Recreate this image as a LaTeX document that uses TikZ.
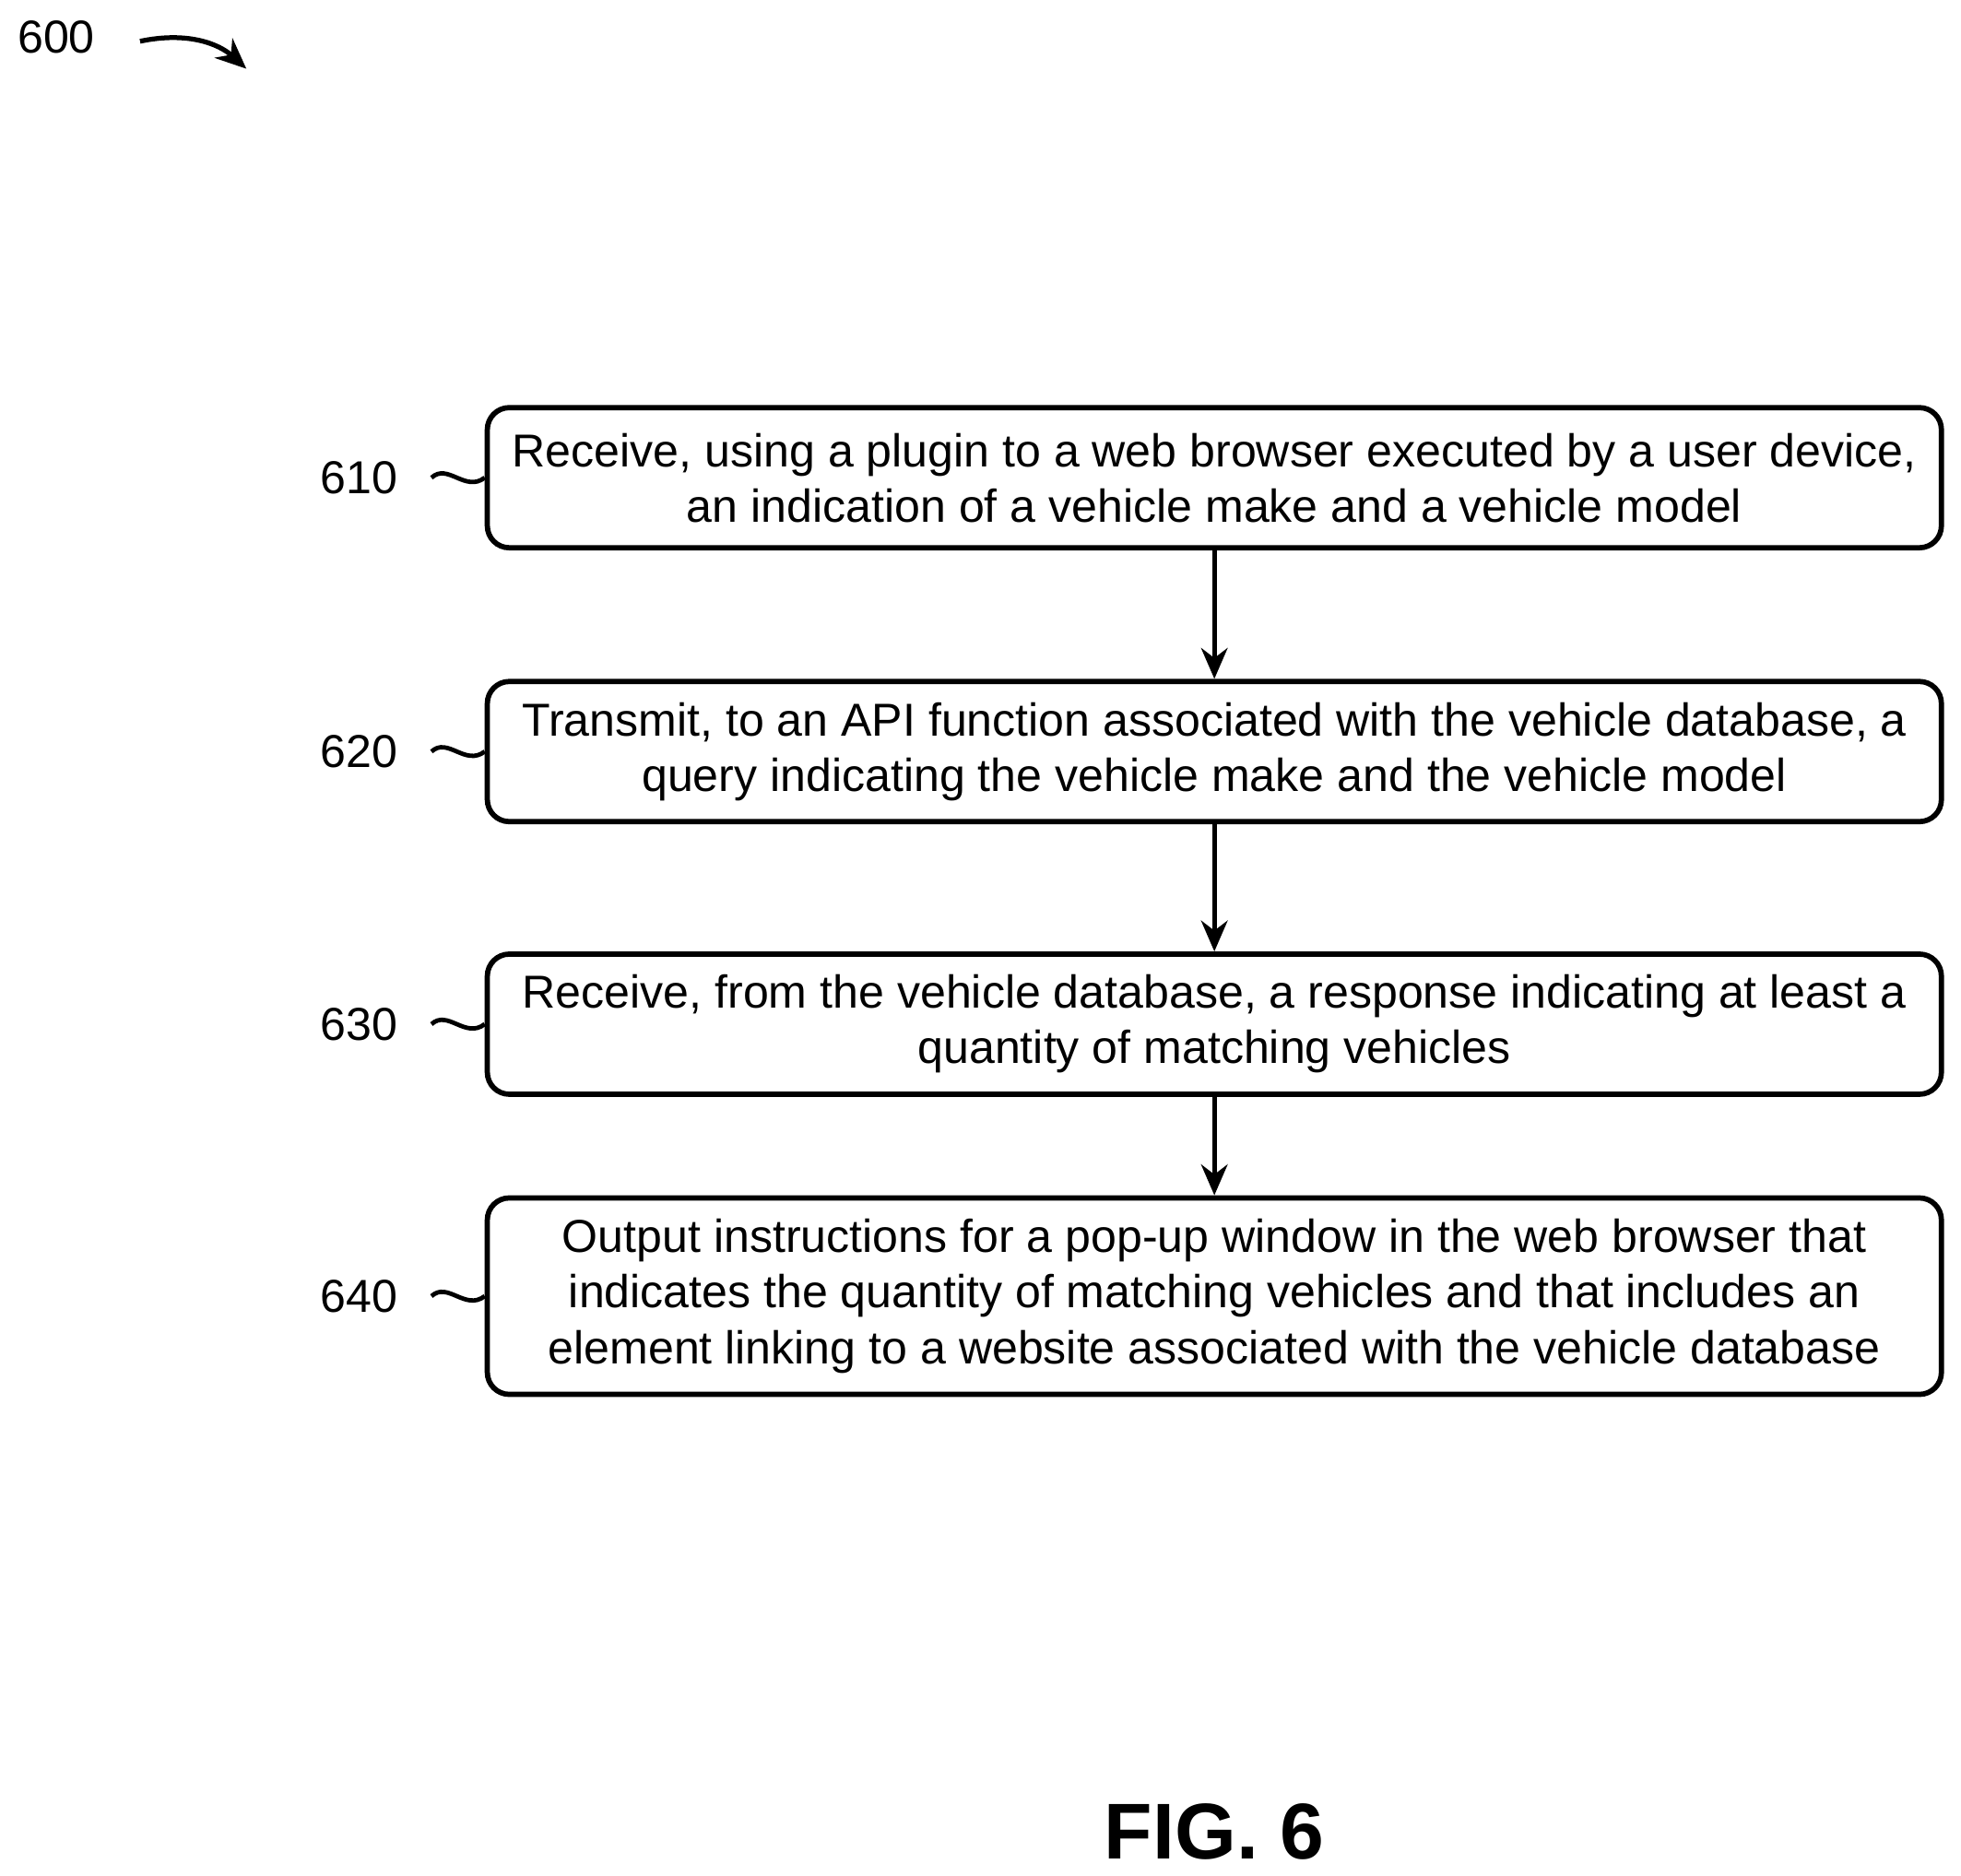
\documentclass[tikz,border=0pt]{standalone}
\usepackage{fontspec}
\setmainfont{Liberation Sans}
\usetikzlibrary{arrows.meta}
\begin{document}
\begin{tikzpicture}[x=0.01cm,y=-0.01cm,
 box/.style={draw,line width=1.2pt,rounded corners=5pt,minimum width=11.62cm,minimum height=#1,align=center,inner sep=0pt,font=\fontsize{10.5}{12.6}\selectfont},
 lab/.style={font=\fontsize{10.5}{12.6}\selectfont},
 arr/.style={-{Stealth[length=7pt,width=6pt]},line width=1.1pt},
 sq/.style={line width=1pt}]
\useasboundingbox (0,0) rectangle (1568,1500);
\node[lab] (n600) at (45,30) {600};
\coordinate (a1) at (112,33);
\coordinate (a2) at (197,55);
\draw[arr] (a1) .. controls (150,25) and (175,35) .. (a2);
\node[box=1.12cm] (b1) at (971,382) {Receive, using a plugin to a web browser executed by a user device,\\an indication of a vehicle make and a vehicle model};
\node[box=1.12cm] (b2) at (971,601) {Transmit, to an API function associated with the vehicle database, a\\query indicating the vehicle make and the vehicle model};
\node[box=1.12cm] (b3) at (971,819) {Receive, from the vehicle database, a response indicating at least a\\quantity of matching vehicles};
\node[box=1.57cm] (b4) at (971,1036.5) {Output instructions for a pop-up window in the web browser that\\indicates the quantity of matching vehicles and that includes an\\element linking to a website associated with the vehicle database};
\draw[arr] (b1) -- (b2);
\draw[arr] (b2) -- (b3);
\draw[arr] (b3) -- (b4);
\foreach \n/\y/\b in {610/382/b1,620/601/b2,630/819/b3,640/1036.5/b4}{
 \node[lab] (l\n) at (287,\y) {\n};
 \draw[sq] (345,\y) .. controls (358,\y-12) and (372,\y+12) .. (\b.west);
}
\node[font=\bfseries\fontsize{18}{20}\selectfont] (fig) at (971,1465) {FIG. 6};
\end{tikzpicture}
\end{document}
